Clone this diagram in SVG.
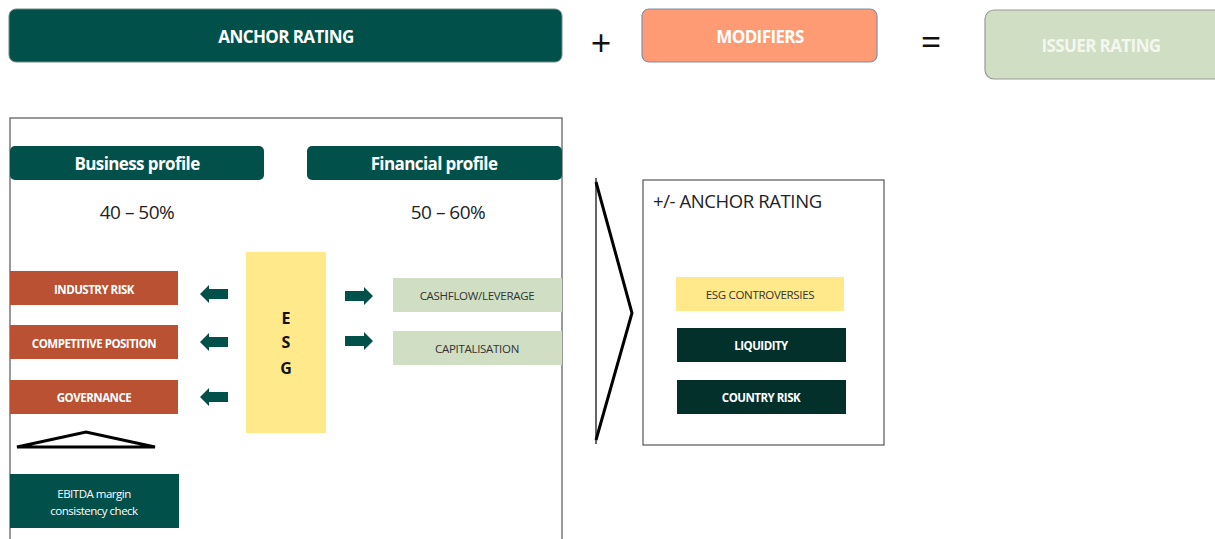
<svg xmlns="http://www.w3.org/2000/svg" width="1215" height="539" viewBox="0 0 1215 539">
<defs>
<style>
.t{font-family:"Open Sans","Liberation Sans",sans-serif;text-anchor:middle;dominant-baseline:central}
.hb{font-weight:bold;fill:#fff;font-size:17px;letter-spacing:-0.6px}
.sb{font-weight:bold;fill:#fff;font-size:11.5px;letter-spacing:-0.5px}
.sd{fill:#333;font-size:11.5px;letter-spacing:-0.3px}
.teal{fill:#02504A}
.brick{fill:#BA5132}
.sage{fill:#D0DEC4}
.yel{fill:#FFE98A}
.dark{fill:#03302B}
.arr{fill:#02504A}
</style>
<path id="arrL" d="M0 0 L9 -9 L9 -5 L28 -5 L28 5 L9 5 L9 9 Z"/>
</defs>
<rect width="1215" height="539" fill="#fff"/>

<g id="anchor-rating">
<rect x="9" y="9" width="553" height="53" rx="7" class="teal" stroke="#6b8a85" stroke-width="1"/>
<text x="286" y="36" class="t hb">ANCHOR RATING</text>
</g>
<text x="601" y="42" class="t" font-size="36" fill="#111">+</text>
<g id="modifiers">
<rect x="642" y="9" width="235" height="53" rx="7" fill="#FF9B74" stroke="#7f8fa8" stroke-width="1.2"/>
<text x="760" y="36" class="t hb">MODIFIERS</text>
</g>
<text x="931" y="41" class="t" font-size="36" fill="#111">=</text>
<g id="issuer-rating">
<rect x="985" y="10" width="240" height="69" rx="9" fill="#D0DEC4" stroke="#999" stroke-width="1.2"/>
<text x="1101" y="45" class="t hb" style="fill:#f4f7f0">ISSUER RATING</text>
</g>

<g id="anchor-panel">
<rect x="10" y="118" width="552" height="430" fill="none" stroke="#555" stroke-width="1.2"/>
</g>
<g id="business-profile">
<rect x="10" y="146" width="254" height="34" rx="5" class="teal"/>
<text x="137" y="163" class="t hb">Business profile</text>
<text x="137" y="212" class="t" font-size="19" fill="#222" letter-spacing="-0.5">40 – 50%</text>
</g>
<g id="financial-profile">
<rect x="307" y="146" width="255" height="34" rx="5" class="teal"/>
<text x="434" y="163" class="t hb">Financial profile</text>
<text x="448" y="212" class="t" font-size="19" fill="#222" letter-spacing="-0.5">50 – 60%</text>
</g>

<g id="industry-risk">
<rect x="10" y="271" width="168" height="34" class="brick"/>
<text x="94" y="289" class="t sb">INDUSTRY RISK</text>
</g>
<g id="competitive-position">
<rect x="10" y="325" width="168" height="34" class="brick"/>
<text x="94" y="343" class="t sb">COMPETITIVE POSITION</text>
</g>
<g id="governance">
<rect x="10" y="380" width="168" height="34" class="brick"/>
<text x="94" y="397" class="t sb">GOVERNANCE</text>
</g>

<g id="esg">
<rect x="246" y="252" width="80" height="181" class="yel"/>
<text x="286" y="318" class="t" font-size="16" font-weight="bold" fill="#111">E</text>
<text x="286" y="342" class="t" font-size="16" font-weight="bold" fill="#111">S</text>
<text x="286" y="368" class="t" font-size="16" font-weight="bold" fill="#111">G</text>
</g>

<g id="cashflow-leverage">
<rect x="393" y="278" width="169" height="34" class="sage"/>
<text x="477" y="295" class="t sd">CASHFLOW/LEVERAGE</text>
</g>
<g id="capitalisation">
<rect x="393" y="331" width="169" height="34" class="sage"/>
<text x="477" y="348" class="t sd">CAPITALISATION</text>
</g>

<g id="connectors">
<use href="#arrL" x="200" y="294" class="arr"/>
<use href="#arrL" x="200" y="342" class="arr"/>
<use href="#arrL" x="200" y="397" class="arr"/>
<use href="#arrL" transform="translate(373 296) scale(-1 1)" class="arr"/>
<use href="#arrL" transform="translate(373 341) scale(-1 1)" class="arr"/>
<polygon points="17,447 86,432 155,447" fill="none" stroke="#000" stroke-width="3" stroke-linejoin="miter"/>
<line x1="596" y1="178" x2="596" y2="444" stroke="#000" stroke-width="1.2"/>
<polyline points="596,182 632,313 596,440" fill="none" stroke="#000" stroke-width="3"/>
</g>

<g id="ebitda-check">
<rect x="10" y="474" width="169" height="54" class="teal"/>
<text x="94" y="493" class="t sb" style="font-weight:normal">EBITDA margin</text>
<text x="94" y="510" class="t sb" style="font-weight:normal">consistency check</text>
</g>

<g id="modifier-panel">
<rect x="643" y="180" width="241" height="265" fill="none" stroke="#555" stroke-width="1.2"/>
<text x="653" y="200" font-family="'Open Sans','Liberation Sans',sans-serif" font-size="18.5" fill="#222" dominant-baseline="central" letter-spacing="-0.4">+/- ANCHOR RATING</text>
</g>
<g id="esg-controversies">
<rect x="676" y="277" width="168" height="34" class="yel"/>
<text x="760" y="294" class="t sd">ESG CONTROVERSIES</text>
</g>
<g id="liquidity">
<rect x="677" y="328" width="169" height="34" class="dark"/>
<text x="761" y="345" class="t sb">LIQUIDITY</text>
</g>
<g id="country-risk">
<rect x="677" y="380" width="169" height="34" class="dark"/>
<text x="761" y="397" class="t sb">COUNTRY RISK</text>
</g>
</svg>
